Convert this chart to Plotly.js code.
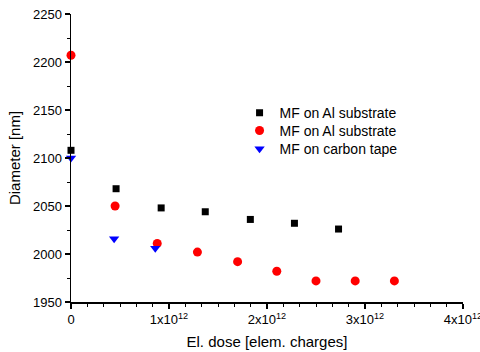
<!DOCTYPE html>
<html><head><meta charset="utf-8">
<script src="https://cdn.plot.ly/plotly-3.0.1.min.js"></script>
<style>html,body{margin:0;padding:0;background:#fff}#chart{width:480px;height:352px}</style>
</head><body><div id="chart"></div>
<script>
const seriesNames = ["MF on Al substrate", "MF on Al substrate", "MF on carbon tape"];
const alX = [0, 0.46e12, 0.92e12, 1.37e12, 1.83e12, 2.28e12, 2.73e12];
const alY = [2108, 2068, 2048, 2044, 2036, 2032, 2026];
const al2X = [0, 0.45e12, 0.88e12, 1.29e12, 1.70e12, 2.10e12, 2.50e12, 2.90e12, 3.30e12];
const al2Y = [2207, 2050, 2011, 2002, 1992, 1982, 1972, 1972, 1972];
const ctX = [0, 0.44e12, 0.86e12];
const ctY = [2100, 2016, 2006];
const xTickVals = [0, 1e12, 2e12, 3e12, 4e12];
const xTickText = ["0", "1x10<sup>12</sup>", "2x10<sup>12</sup>", "3x10<sup>12</sup>", "4x10<sup>12</sup>"];

const font = "Liberation Sans, Arial, sans-serif";
const traces = [
  {x: alX, y: alY, name: seriesNames[0], mode: "markers", type: "scatter", legend: "legend",
   marker: {symbol: "square", size: 7, color: "#000000"}, cliponaxis: false},
  {x: al2X, y: al2Y, name: seriesNames[1], mode: "markers", type: "scatter", legend: "legend2",
   marker: {symbol: "circle", size: 9, color: "#ff0000"}, cliponaxis: false},
  {x: ctX, y: ctY, name: seriesNames[2], mode: "markers", type: "scatter", legend: "legend3",
   marker: {symbol: "triangle-down", size: 9, color: "#0000ff"}, cliponaxis: false}
];
const legBase = {x: 0.43, xanchor: "left", yanchor: "middle", bgcolor: "rgba(0,0,0,0)",
                 font: {family: font, size: 14, color: "#000"}};
const layout = {
  width: 480, height: 352,
  margin: {l: 71, r: 17, t: 14, b: 50},
  paper_bgcolor: "#fff", plot_bgcolor: "#fff",
  font: {family: font, size: 13, color: "#000"},
  showlegend: true,
  legend: Object.assign({}, legBase, {y: 0.656}),
  legend2: Object.assign({}, legBase, {y: 0.594}),
  legend3: Object.assign({}, legBase, {y: 0.531}),
  xaxis: {range: [0, 4e12], showgrid: false, zeroline: false, showline: true, linecolor: "#000", linewidth: 1.5,
          ticks: "outside", ticklen: 5, tickwidth: 1.2, tickcolor: "#000",
          tickvals: xTickVals, ticktext: xTickText, tickfont: {size: 13}, ticklabeloverflow: "allow",
          minor: {dtick: 1e12/6, tick0: 0, ticks: "outside", ticklen: 3, tickwidth: 1, tickcolor: "#000", showgrid: false},
          title: {text: "El. dose [elem. charges]", font: {size: 15}, standoff: 10}},
  yaxis: {range: [1950, 2250], showgrid: false, zeroline: false, showline: true, linecolor: "#000", linewidth: 1.5,
          ticks: "outside", ticklen: 5, tickwidth: 1.2, tickcolor: "#000",
          dtick: 50, tick0: 1950, tickfont: {size: 13},
          minor: {dtick: 25, ticks: "outside", ticklen: 3, tickwidth: 1, tickcolor: "#000", showgrid: false},
          title: {text: "Diameter [nm]", font: {size: 15}, standoff: 8}}
};
Plotly.newPlot("chart", traces, layout, {displayModeBar: false, staticPlot: true});
</script></body></html>
